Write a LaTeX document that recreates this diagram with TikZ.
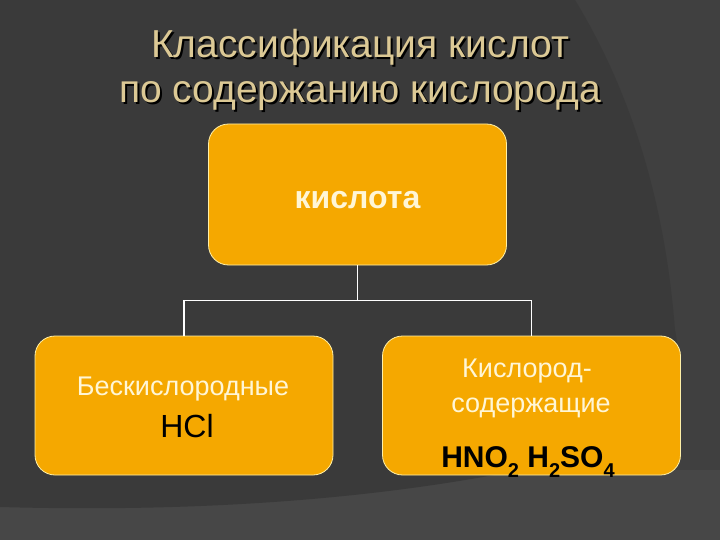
\documentclass[tikz,border=0pt]{standalone}
\usepackage{fontspec}
\setmainfont{Liberation Sans}
\usetikzlibrary{positioning}

\definecolor{bgdark}{HTML}{3A3A3A}
\definecolor{bgmid}{HTML}{404040}
\definecolor{bglight}{HTML}{474747}
\definecolor{boxfill}{HTML}{F5A800}
\definecolor{boxline}{HTML}{FFF0A8}
\definecolor{cream}{HTML}{FFF6D6}
\definecolor{titlecol}{HTML}{DCC995}

\newcommand{\chemidx}[1]{\raisebox{-10pt}{\fontsize{20}{20}\selectfont #1}}

\tikzset{
    catbox/.style={draw=boxline, line width=0.8pt, fill=boxfill, rounded corners=20pt,
        minimum width=298pt, minimum height=140pt},
    boxtext/.style={anchor=base, inner sep=0pt, text=cream, font=\fontsize{27}{27}\selectfont},
    formula/.style={anchor=base, inner sep=0pt, text=black},
    titletext/.style={anchor=base, align=center, inner sep=0pt,
        font=\fontsize{39}{45}\selectfont},
    conn/.style={draw=white, line width=1.5pt}
}

\begin{document}
\begin{tikzpicture}[x=1pt,y=-1pt]
% background
\fill[bglight] (0,0) rectangle (720,540);
\fill[bgmid] (520,0) rectangle (720,470);
\fill[bgdark] (0,0) -- (575,0) .. controls (630,90) and (665,200) .. (675,330)
    .. controls (690,400) and (640,440) .. (520,470)
    .. controls (420,490) and (250,514) .. (0,507) -- cycle;
\useasboundingbox (0,0) rectangle (720,540);

% title with shadow
\node[titletext, text=black] at (362,105) {Классификация кислот\\по содержанию кислорода};
\node (title) [titletext, text=titlecol] at (360,103) {Классификация кислот\\по содержанию кислорода};

% boxes
\node (acid) [catbox, minimum height=141pt] at (357.5,194.5) {};
\node (oxfree) [catbox, minimum height=139pt] at (184,405.5) {};
\node (oxyg) [catbox, minimum height=139pt] at (531.5,405.5) {};

% box texts
\node (acidlbl) [boxtext, font=\fontsize{32}{32}\selectfont\bfseries] at (357.5,208) {кислота};
\node (oxfreelbl) [boxtext] at (183,395) {Бескислородные};
\node (hcl) [formula, font=\fontsize{32}{32}\selectfont] at (187,437) {HCl};
\node (oxyglbl1) [boxtext] at (527,377) {Кислород-};
\node (oxyglbl2) [boxtext] at (531,412) {содержащие};
\node (oxyacids) [formula, font=\fontsize{30}{30}\selectfont\bfseries] at (528,467)
    {HNO\chemidx{2} H\chemidx{2}SO\chemidx{4}};

% connectors
\draw[conn] (acid.south) -- ++(0,35) coordinate (fork) -| (oxfree.north);
\draw[conn] (fork) -| (oxyg.north);
\end{tikzpicture}
\end{document}
